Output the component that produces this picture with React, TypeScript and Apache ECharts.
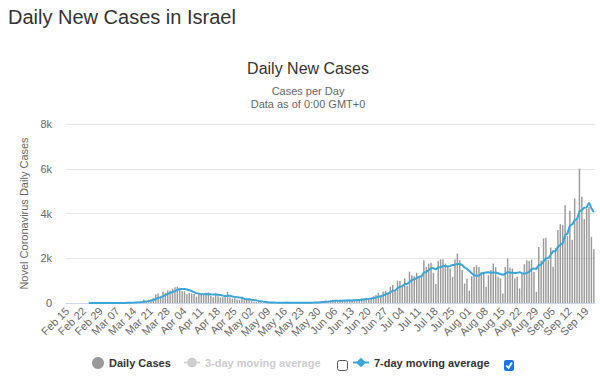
import React, { useEffect, useRef } from "react";
import * as echarts from "echarts";

// Daily new cases, Feb 15 2020 (index 0) .. Sep 22 2020 (index 220)
const dailyCases: number[] = [
  0, 0, 0, 0, 0, 0, 1, 0, 0, 0,
  0, 0, 1, 0, 0, 1, 3, 2, 4, 2,
  4, 2, 4, 9, 11, 36, 22, 29, 20, 58,
  50, 55, 160, 100, 148, 172, 233, 380, 420, 290,
  500, 450, 560, 560, 640, 700, 730, 680, 540, 520,
  390, 450, 430, 400, 290, 450, 360, 350, 460, 470,
  330, 260, 440, 300, 250, 260, 260, 500, 250, 190,
  210, 160, 140, 200, 120, 160, 150, 90, 60, 40,
  40, 30, 20, 15, 10, 16, 20, 8, 12, 17,
  10, 15, 35, 8, 12, 5, 10, 15, 22, 6,
  10, 25, 18, 20, 40, 60, 75, 90, 110, 60,
  100, 120, 125, 60, 115, 130, 120, 150, 140, 100,
  110, 170, 180, 200, 220, 230, 190, 220, 300, 360,
  460, 330, 500, 550, 460, 730, 800, 580, 1000, 980,
  730, 1100, 770, 1400, 1240, 1200, 1350, 1170, 1240, 1910,
  1610, 1760, 1800, 1350, 850, 1880, 1950, 1950, 1760, 1660,
  1540, 1170, 1940, 2210, 1910, 1470, 870, 1100, 550, 1200,
  1610, 1690, 1610, 1390, 1320, 730, 1240, 1470, 1760, 1610,
  1170, 1100, 430, 1610, 1990, 1590, 1540, 1100, 1170, 650,
  1320, 1730, 1910, 1880, 1940, 1390, 500, 2500, 1900, 2880,
  2920, 1920, 2480, 1620, 2450, 3260, 3520, 3480, 4370, 3000,
  4120, 2830, 4670, 3700, 6000, 4750, 3750, 4220, 4300, 2960,
  2400,
];

// 7-day moving average as drawn (starts Feb 24)
const avg7Days: (number | null)[] = [
  null, null, null, null, null, null, null, null, null, 0,
  0, 0, 0, 0, 0, 0, 1, 1, 2, 2,
  2, 3, 3, 4, 5, 10, 13, 16, 19, 26,
  32, 39, 56, 67, 84, 106, 131, 178, 230, 249,
  306, 349, 405, 451, 489, 529, 591, 617, 630, 624,
  600, 573, 534, 487, 431, 419, 396, 390, 391, 397,
  387, 383, 381, 373, 359, 330, 300, 324, 323, 287,
  274, 261, 244, 236, 181, 169, 163, 146, 131, 117,
  94, 81, 61, 42, 31, 24, 22, 17, 14, 14,
  13, 14, 17, 15, 16, 15, 14, 14, 15, 11,
  11, 13, 15, 17, 20, 26, 35, 47, 59, 65,
  76, 88, 97, 95, 99, 101, 110, 117, 120, 116,
  124, 131, 139, 150, 160, 173, 186, 201, 220, 246,
  283, 299, 337, 389, 423, 484, 547, 564, 660, 729,
  754, 846, 851, 937, 1031, 1060, 1113, 1176, 1196, 1359,
  1389, 1463, 1549, 1549, 1503, 1594, 1600, 1649, 1649, 1629,
  1656, 1701, 1710, 1747, 1741, 1700, 1587, 1524, 1436, 1330,
  1244, 1213, 1233, 1307, 1339, 1364, 1370, 1350, 1360, 1360,
  1329, 1297, 1254, 1307, 1381, 1357, 1347, 1337, 1347, 1379,
  1337, 1300, 1346, 1394, 1514, 1546, 1524, 1693, 1717, 1856,
  2004, 2001, 2157, 2317, 2310, 2504, 2596, 2676, 3026, 3100,
  3457, 3511, 3713, 3739, 4099, 4153, 4260, 4274, 4484, 4240,
  4054,
];

const avg3Days: (number | null)[] = []; // hidden series (legend item off)

const monthNames = ["Jan", "Feb", "Mar", "Apr", "May", "Jun", "Jul", "Aug", "Sep", "Oct", "Nov", "Dec"];
const categories: string[] = dailyCases.map((_, i) => {
  const d = new Date(Date.UTC(2020, 1, 15 + i));
  const day = d.getUTCDate();
  return monthNames[d.getUTCMonth()] + " " + (day < 10 ? "0" + day : String(day));
});

const yMax = 8000;
const yStep = 2000;

const FONT = '"Liberation Sans", Arial, Helvetica, sans-serif';
const BLUE = "#3aa6d8";

export default function App() {
  const ref = useRef<HTMLDivElement>(null);

  useEffect(() => {
    if (!ref.current) return;
    const chart = echarts.init(ref.current, undefined, { renderer: "svg" });
    chart.setOption({
      animation: false,
      backgroundColor: "#ffffff",
      textStyle: { fontFamily: FONT },
      title: [
        {
          text: "Daily New Cases in Israel",
          left: 8,
          top: 7,
          padding: 0,
          textStyle: { fontSize: 20, fontWeight: "normal", color: "#333333", fontFamily: FONT },
        },
        {
          text: "Daily New Cases",
          subtext: "Cases per Day\nData as of 0:00 GMT+0",
          left: 308,
          textAlign: "center",
          top: 60,
          padding: 0,
          itemGap: 8,
          textStyle: { fontSize: 16, fontWeight: "normal", color: "#333333", fontFamily: FONT },
          subtextStyle: { fontSize: 11, color: "#666666", lineHeight: 13, fontFamily: FONT },
        },
      ],
      grid: { left: 66, right: 5, top: 124, bottom: 79 },
      xAxis: {
        type: "category",
        data: categories,
        boundaryGap: true,
        axisLine: { lineStyle: { color: "#ccd6eb" } },
        axisTick: { show: false },
        axisLabel: { interval: 6, rotate: 45, fontSize: 11, color: "#666666", margin: 6, fontFamily: FONT },
      },
      yAxis: {
        type: "value",
        min: 0,
        max: yMax,
        interval: yStep,
        name: "Novel Coronavirus Daily Cases",
        nameLocation: "middle",
        nameGap: 37,
        nameTextStyle: { fontSize: 11, color: "#666666", fontFamily: FONT },
        axisLine: { show: false },
        axisTick: { show: false },
        axisLabel: {
          fontSize: 11,
          color: "#666666",
          margin: 14,
          fontFamily: FONT,
          formatter: (v: number) => (v === 0 ? "0" : v / 1000 + "k"),
        },
        splitLine: { lineStyle: { color: "#e6e6e6" } },
      },
      legend: [
        {
          data: [{ name: "Daily Cases", icon: "circle" }],
          left: 92,
          top: 357,
          padding: 0,
          itemWidth: 12,
          itemHeight: 12,
          textStyle: { fontSize: 11, fontWeight: "bold", color: "#333333", fontFamily: FONT },
        },
        {
          data: ["3-day moving average"],
          selected: { "3-day moving average": false },
          left: 183,
          top: 357,
          padding: 0,
          itemWidth: 16,
          itemHeight: 12,
          inactiveColor: "#cccccc",
          textStyle: { fontSize: 11, fontWeight: "bold", color: "#333333", fontFamily: FONT },
        },
        {
          data: ["7-day moving average"],
          left: 352,
          top: 357,
          padding: 0,
          itemWidth: 16,
          itemHeight: 12,
          textStyle: { fontSize: 11, fontWeight: "bold", color: "#333333", fontFamily: FONT },
        },
      ],
      series: [
        {
          name: "Daily Cases",
          type: "bar",
          data: dailyCases,
          barWidth: "60%",
          itemStyle: { color: "#999999" },
        },
        {
          name: "3-day moving average",
          type: "line",
          data: avg3Days,
          symbol: "circle",
          symbolSize: 6,
          itemStyle: { color: "#bbbbbb" },
        },
        {
          name: "7-day moving average",
          type: "line",
          data: avg7Days,
          symbol: "diamond",
          symbolSize: 7,
          showSymbol: false,
          lineStyle: { width: 2, color: BLUE },
          itemStyle: { color: BLUE },
        },
      ],
      graphic: [
        {
          type: "rect",
          shape: { x: 337.5, y: 360.5, width: 10, height: 10, r: 2 },
          style: { fill: "#ffffff", stroke: "#555555", lineWidth: 1 },
        },
        {
          type: "rect",
          shape: { x: 504, y: 360, width: 10, height: 11, r: 2 },
          style: { fill: "#1a73e8" },
        },
        {
          type: "polyline",
          shape: { points: [[506.3, 365.5], [508.5, 368], [512, 362.5]] },
          style: { stroke: "#ffffff", lineWidth: 1.8, fill: "none" },
        },
      ],
    });
    return () => chart.dispose();
  }, []);

  return (
    <div
      ref={ref}
      style={{ position: "absolute", left: 0, top: 0, width: 600, height: 382 }}
    />
  );
}
